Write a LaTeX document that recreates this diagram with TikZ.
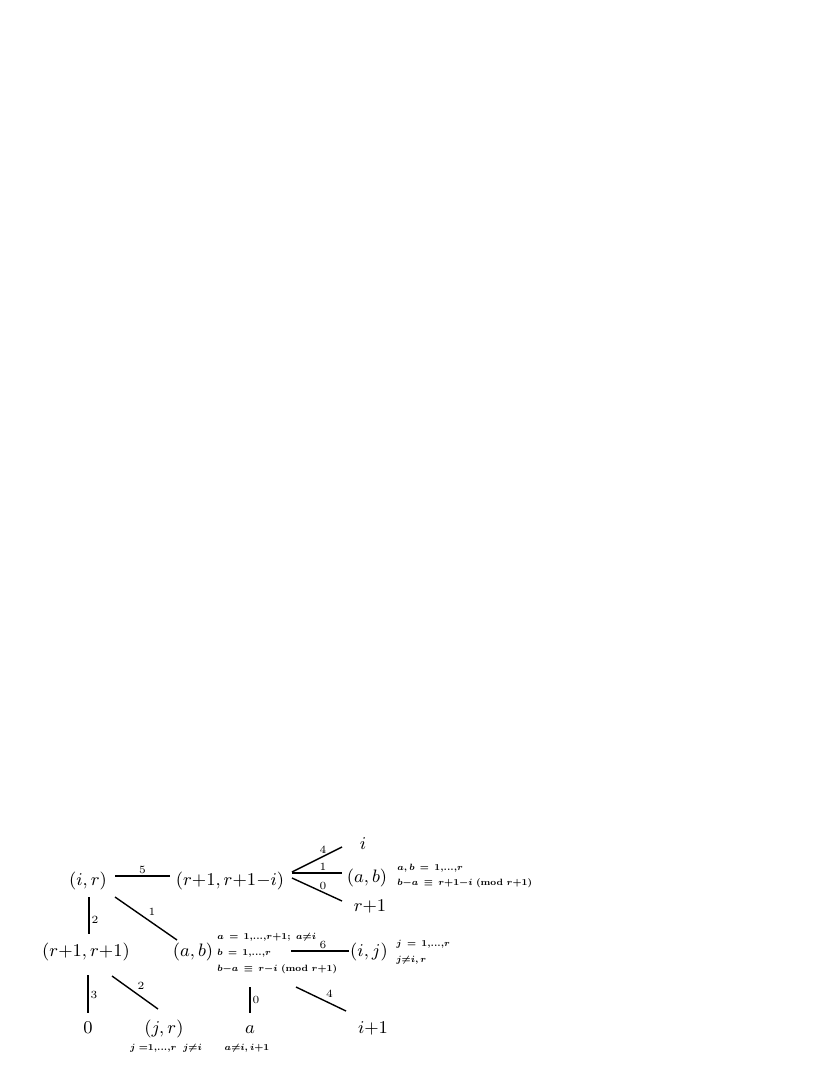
\documentclass[tikz,border=0pt]{standalone}
\usepackage{amsmath}
\usepackage{graphicx}
\newcommand\dts{{,}{.}{.}{.}{,}}
\newcommand\smalltab[2]{\scalebox{0.65}{\fontsize{7}{#1}\selectfont\boldmath\begin{tabular}{@{}l@{}}#2\end{tabular}}}
\begin{document}
\begin{tikzpicture}[x=0.5pt,y=-0.5pt,
  main/.style={anchor=base, inner sep=0pt, font=\fontsize{9}{11}\selectfont},
  ann/.style={anchor=west, inner sep=0pt},
  annc/.style={anchor=base, inner sep=0pt},
  lab/.style={font=\fontsize{5.5}{6}\selectfont, inner sep=1pt},
  edge/.style={line width=0.7pt}]
\path[use as bounding box] (0,0) rectangle (830,1075);
% row 1
\node[main] (ir) at (88,885) {$(i,r)$};
\node[main] (rr) at (230,885) {$(r{+}1,r{+}1{-}i)$};
\node[main] (itop) at (363,849) {$i$};
\node[main] (ab1) at (367,882) {$(a,b)$};
\node[main] (r1) at (370,911) {$r{+}1$};
\node[ann] (ann1) at (397,875) {\smalltab{11.5}{$a,b\,=\,1\dts r$\\ $b{-}a\,\equiv\,r{+}1{-}i\ (\mathrm{mod}\ r{+}1)$}};
% row 2
\node[main] (rr11) at (86,956) {$(r{+}1,r{+}1)$};
\node[main] (ab2) at (193,956) {$(a,b)$};
\node[ann] (ann2) at (217,952) {\smalltab{12.3}{$a\,=\,1\dts r{+}1;\ a{\neq}i$\\ $b\,=\,1\dts r$\\ $b{-}a\,\equiv\,r{-}i\ (\mathrm{mod}\ r{+}1)$}};
\node[main] (ij) at (369,956) {$(i,j)$};
\node[ann] (ann3) at (396,951) {\smalltab{12.8}{$j\,=\,1\dts r$\\ $j{\neq}i,r$}};
% row 3
\node[main] (zero) at (88,1033) {$0$};
\node[main] (jr) at (164,1033) {$(j,r)$};
\node[annc] (ann4) at (166,1050) {\smalltab{9}{$j\;{=}1\dts r\;\; j{\neq}i$}};
\node[main] (a) at (250,1033) {$a$};
\node[annc] (ann5) at (247,1050) {\smalltab{9}{$a{\neq}i,i{+}1$}};
\node[main] (i1) at (373,1033) {$i{+}1$};
% edges
\draw[edge] ([shift={(27,-9)}]ir.base) -- node[lab,above]{5} ([shift={(-60,-9)}]rr.base);
\draw[edge] ([shift={(62,-13)}]rr.base) -- node[lab,above,pos=0.62]{4} ([shift={(-21,-2)}]itop.base);
\draw[edge] ([shift={(62,-12)}]rr.base) -- node[lab,above,pos=0.62]{1} ([shift={(-25,-9)}]ab1.base);
\draw[edge] ([shift={(62,-7)}]rr.base) -- node[lab,above,pos=0.62]{0} ([shift={(-28,-10)}]r1.base);
\draw[edge] ([shift={(1,12)}]ir.base) -- node[lab,right,pos=0.62]{2} ([shift={(3,-22)}]rr11.base);
\draw[edge] ([shift={(27,12)}]ir.base) -- node[lab,above right,pos=0.5]{1} ([shift={(-16,-16)}]ab2.base);
\draw[edge] ([shift={(98,-5)}]ab2.base) -- node[lab,above,pos=0.55]{6} ([shift={(-20,-5)}]ij.base);
\draw[edge] ([shift={(2,19)}]rr11.base) -- node[lab,right,pos=0.53]{3} ([shift={(0,-20)}]zero.base);
\draw[edge] ([shift={(26,20)}]rr11.base) -- node[lab,above right,pos=0.5]{2} ([shift={(-6,-24)}]jr.base);
\draw[edge] ([shift={(57,31)}]ab2.base) -- node[lab,right,pos=0.5]{0} ([shift={(0,-20)}]a.base);
\draw[edge] ([shift={(103,31)}]ab2.base) -- node[lab,above right,pos=0.55]{4} ([shift={(-27,-22)}]i1.base);
\end{tikzpicture}
\end{document}
